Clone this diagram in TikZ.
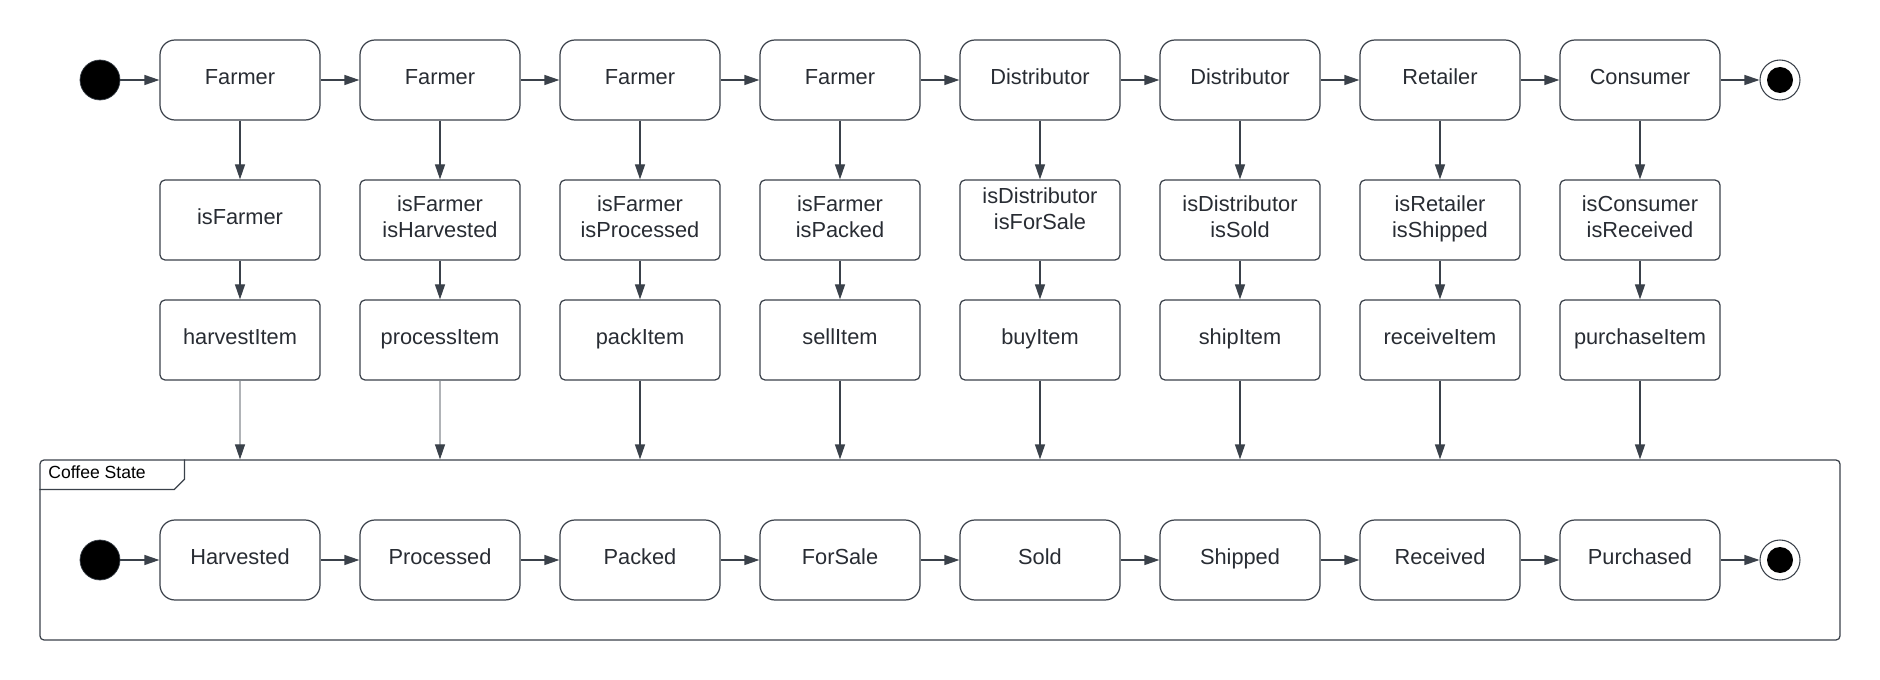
\documentclass[tikz,border=0pt]{standalone}
\usepackage{fontspec}
\setmainfont{Liberation Sans}
\usetikzlibrary{positioning}
\usetikzlibrary{arrows.meta}
\usetikzlibrary{calc}
\definecolor{linec}{HTML}{3A414A}
\definecolor{textc}{HTML}{282C33}

\begin{document}
\begin{tikzpicture}[
		font=\fontsize{12.4}{14.8}\selectfont,
		role/.style={draw=linec,line width=0.7pt,rounded corners=0.3cm,minimum width=3.2cm,minimum height=1.6cm,text=textc,text height=8.9pt,text depth=3.4pt},
		check/.style={draw=linec,line width=0.7pt,rounded corners=0.1cm,minimum width=3.2cm,minimum height=1.6cm,text=textc,align=center,text height=8.9pt,text depth=3.4pt},
		twoline/.style={check,text height=23.7pt},
		startdot/.style={circle,draw=linec,fill=black,minimum size=0.8cm,inner sep=0pt},
		enddot/.style={circle,draw=linec,line width=0.6pt,minimum size=0.8cm,inner sep=0pt},
		flow/.style={draw=linec,line width=0.7pt,-{Triangle[length=0.3cm,width=0.2cm]}},
		faint/.style={draw=linec!40,line width=0.6pt,-{Triangle[length=0.3cm,width=0.2cm,color=linec]}}
	]
		\useasboundingbox (0,0) rectangle (37.6,-13.6);
		% roles
		\node (start)    [startdot] at (2,-1.6) {};
		\node (farmera)  [role] at (4.8,-1.6)  {Farmer};
		\node (farmerb)  [role] at (8.8,-1.6)  {Farmer};
		\node (farmerc)  [role] at (12.8,-1.6) {Farmer};
		\node (farmerd)  [role] at (16.8,-1.6) {Farmer};
		\node (distria)  [role] at (20.8,-1.6) {Distributor};
		\node (distrib)  [role] at (24.8,-1.6) {Distributor};
		\node (retailer) [role] at (28.8,-1.6) {Retailer};
		\node (consumer) [role] at (32.8,-1.6) {Consumer};
		\node (ende)     [enddot] at (35.6,-1.6) {};
		\fill [black] (ende.center) circle (0.26cm);
		% checks
		\node (isfarmer)    [check] at (4.8,-4.4)  {isFarmer};
		\node (isharvested) [twoline] at (8.8,-4.4)  {isFarmer\\isHarvested};
		\node (isprocessed) [twoline] at (12.8,-4.4) {isFarmer\\isProcessed};
		\node (ispacked)    [twoline] at (16.8,-4.4) {isFarmer\\isPacked};
		\node (isforsale)   [twoline,text depth=12.5pt] at (20.8,-4.4) {isDistributor\\isForSale};
		\node (issold)      [twoline] at (24.8,-4.4) {isDistributor\\isSold};
		\node (isshipped)   [twoline] at (28.8,-4.4) {isRetailer\\isShipped};
		\node (isreceived)  [twoline] at (32.8,-4.4) {isConsumer\\isReceived};
		% functions
		\node (harvestitem)  [check] at (4.8,-6.8)  {harvestItem};
		\node (processitem)  [check] at (8.8,-6.8)  {processItem};
		\node (packitem)     [check] at (12.8,-6.8) {packItem};
		\node (sellitem)     [check] at (16.8,-6.8) {sellItem};
		\node (buyitem)      [check] at (20.8,-6.8) {buyItem};
		\node (shipitem)     [check] at (24.8,-6.8) {shipItem};
		\node (receiveitem)  [check] at (28.8,-6.8) {receiveItem};
		\node (purchaseitem) [check] at (32.8,-6.8) {purchaseItem};
		% coffee state
		\node (coffee) [draw=linec,line width=0.7pt,rounded corners=0.08cm,minimum width=36cm,minimum height=3.6cm] at (18.8,-11) {};
		\draw [draw=linec,line width=0.7pt] ([yshift=-0.6cm]coffee.north west) -- ++(2.7,0) -- ++(0.2,0.2) -- ++(0,0.4);
		\node (coffeelabel) [anchor=base west,inner sep=0pt,font=\fontsize{10}{12}\selectfont] at (0.96,-9.56) {Coffee State};
		\node (startb)    [startdot] at (2,-11.2) {};
		\node (harvested) [role] at (4.8,-11.2)  {Harvested};
		\node (processed) [role] at (8.8,-11.2)  {Processed};
		\node (packed)    [role] at (12.8,-11.2) {Packed};
		\node (forsale)   [role] at (16.8,-11.2) {ForSale};
		\node (sold)      [role] at (20.8,-11.2) {Sold};
		\node (shipped)   [role] at (24.8,-11.2) {Shipped};
		\node (received)  [role] at (28.8,-11.2) {Received};
		\node (purchased) [role] at (32.8,-11.2) {Purchased};
		\node (endeb)     [enddot] at (35.6,-11.2) {};
		\fill [black] (endeb.center) circle (0.26cm);
		% top row
		\draw [flow] (start.east) -- (farmera.west);
		\draw [flow] (farmera.east) -- (farmerb.west);
		\draw [flow] (farmerb.east) -- (farmerc.west);
		\draw [flow] (farmerc.east) -- (farmerd.west);
		\draw [flow] (farmerd.east) -- (distria.west);
		\draw [flow] (distria.east) -- (distrib.west);
		\draw [flow] (distrib.east) -- (retailer.west);
		\draw [flow] (retailer.east) -- (consumer.west);
		\draw [flow] (consumer.east) -- (ende.west);
		% down to checks
		\draw [flow] (farmera.south) -- (isfarmer.north);
		\draw [flow] (farmerb.south) -- (isharvested.north);
		\draw [flow] (farmerc.south) -- (isprocessed.north);
		\draw [flow] (farmerd.south) -- (ispacked.north);
		\draw [flow] (distria.south) -- (isforsale.north);
		\draw [flow] (distrib.south) -- (issold.north);
		\draw [flow] (retailer.south) -- (isshipped.north);
		\draw [flow] (consumer.south) -- (isreceived.north);
		% down to functions
		\draw [flow] (isfarmer.south) -- (harvestitem.north);
		\draw [flow] (isharvested.south) -- (processitem.north);
		\draw [flow] (isprocessed.south) -- (packitem.north);
		\draw [flow] (ispacked.south) -- (sellitem.north);
		\draw [flow] (isforsale.south) -- (buyitem.north);
		\draw [flow] (issold.south) -- (shipitem.north);
		\draw [flow] (isshipped.south) -- (receiveitem.north);
		\draw [flow] (isreceived.south) -- (purchaseitem.north);
		% down to coffee state
		\draw [faint] (harvestitem.south) -- (harvestitem.south |- coffee.north);
		\draw [faint] (processitem.south) -- (processitem.south |- coffee.north);
		\draw [flow] (packitem.south) -- (packitem.south |- coffee.north);
		\draw [flow] (sellitem.south) -- (sellitem.south |- coffee.north);
		\draw [flow] (buyitem.south) -- (buyitem.south |- coffee.north);
		\draw [flow] (shipitem.south) -- (shipitem.south |- coffee.north);
		\draw [flow] (receiveitem.south) -- (receiveitem.south |- coffee.north);
		\draw [flow] (purchaseitem.south) -- (purchaseitem.south |- coffee.north);
		% bottom row
		\draw [flow] (startb.east) -- (harvested.west);
		\draw [flow] (harvested.east) -- (processed.west);
		\draw [flow] (processed.east) -- (packed.west);
		\draw [flow] (packed.east) -- (forsale.west);
		\draw [flow] (forsale.east) -- (sold.west);
		\draw [flow] (sold.east) -- (shipped.west);
		\draw [flow] (shipped.east) -- (received.west);
		\draw [flow] (received.east) -- (purchased.west);
		\draw [flow] (purchased.east) -- (endeb.west);
	\end{tikzpicture}
\end{document}
